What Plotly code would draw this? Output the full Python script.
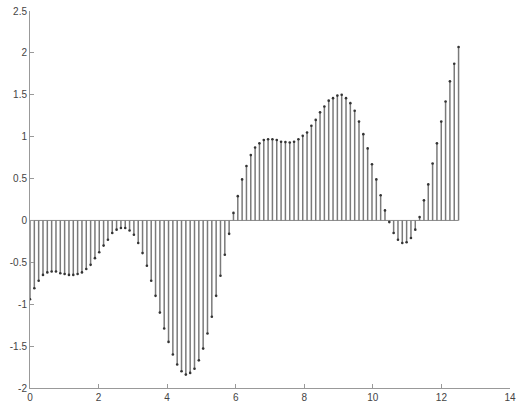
import numpy as np
import plotly.graph_objects as go

n_points = 100
x_start, x_end = 0.0, 12.5
values = [
    -0.94, -0.81, -0.72, -0.65, -0.62, -0.61, -0.61, -0.63, -0.64, -0.65,
    -0.65, -0.64, -0.62, -0.58, -0.53, -0.45, -0.38, -0.30, -0.23, -0.15,
    -0.11, -0.09, -0.09, -0.12, -0.17, -0.27, -0.39, -0.54, -0.72, -0.90,
    -1.10, -1.29, -1.45, -1.60, -1.72, -1.80, -1.84, -1.82, -1.77, -1.67,
    -1.53, -1.35, -1.15, -0.90, -0.66, -0.41, -0.16, 0.09, 0.29, 0.49,
    0.65, 0.78, 0.87, 0.92, 0.96, 0.97, 0.97, 0.96, 0.94, 0.935,
    0.93, 0.94, 0.97, 1.01, 1.05, 1.13, 1.20, 1.29, 1.36, 1.43,
    1.46, 1.49, 1.50, 1.46, 1.40, 1.31, 1.18, 1.03, 0.86, 0.67,
    0.49, 0.30, 0.12, -0.02, -0.15, -0.23, -0.27, -0.26, -0.21, -0.11,
    0.04, 0.24, 0.43, 0.68, 0.92, 1.18, 1.42, 1.66, 1.87, 2.07,
]
x_ticks = [0, 2, 4, 6, 8, 10, 12, 14]
y_ticks = [-2, -1.5, -1, -0.5, 0, 0.5, 1, 1.5, 2, 2.5]
y_tick_labels = ["-2", "-1.5", "-1", "-0.5", "0", "0.5", "1", "1.5", "2", "2.5"]

x = np.linspace(x_start, x_end, n_points)
y = np.array(values)

sx, sy = [], []
for xi, yi in zip(x, y):
    sx += [xi, xi, None]
    sy += [0, yi, None]

fig = go.Figure()
fig.add_trace(go.Scatter(x=[x[0], x[-1]], y=[0, 0], mode="lines",
                         line=dict(color="#8a8a8a", width=1), hoverinfo="skip"))
fig.add_trace(go.Scatter(x=sx, y=sy, mode="lines",
                         line=dict(color="#7a7a7a", width=1.5), hoverinfo="skip"))
fig.add_trace(go.Scatter(x=x, y=y, mode="markers",
                         marker=dict(color="#333333", size=2.6), hoverinfo="skip"))

axis_font = dict(family="Liberation Sans, Arial, sans-serif", size=10, color="#444444")
fig.update_layout(
    width=516, height=403,
    margin=dict(l=30, r=6, t=11, b=15),
    paper_bgcolor="white", plot_bgcolor="white",
    showlegend=False,
    xaxis=dict(range=[0, 14], tickvals=x_ticks, ticks="inside", ticklen=4,
               tickcolor="#999999", showline=True, linecolor="#999999", linewidth=1,
               showgrid=False, zeroline=False, tickfont=axis_font, automargin=False,
               ticklabelstandoff=0, ticklabeloverflow="allow"),
    yaxis=dict(range=[-2, 2.5], tickvals=y_ticks, ticktext=y_tick_labels,
               ticks="inside", ticklen=4, tickcolor="#999999", showline=True,
               linecolor="#999999", linewidth=1, showgrid=False, zeroline=False,
               tickfont=axis_font, automargin=False, ticklabeloverflow="allow"),
)
fig.write_html("out.html", config={"displayModeBar": False},
               post_script="document.body.style.margin='0';")
